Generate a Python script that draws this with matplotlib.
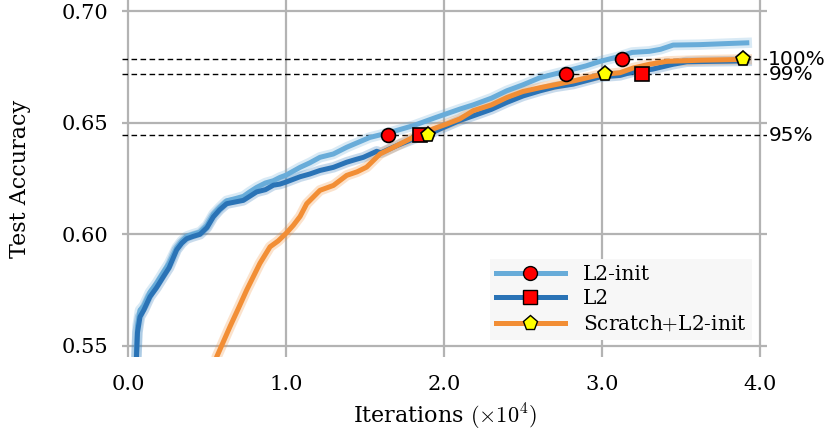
import matplotlib
matplotlib.use("Agg")
import matplotlib.pyplot as plt
from matplotlib.lines import Line2D

# ============================================
# フォント
# ============================================
plt.rcParams["font.family"] = ["DejaVu Serif"]
plt.rcParams["mathtext.fontset"] = "cm"

# ============================================
# データ (x: iterations / 1e4)
# ============================================
l2init_x = [0.045, 0.06, 0.076, 0.10, 0.139, 0.18, 0.224, 0.26, 0.308, 0.34,
            0.371, 0.41, 0.456, 0.50, 0.54, 0.58, 0.624, 0.68, 0.73, 0.77,
            0.814, 0.87, 0.92, 0.962, 1.0, 1.089, 1.15, 1.215, 1.30, 1.384,
            1.45, 1.53, 1.66, 1.806, 1.95, 2.10, 2.185, 2.30, 2.397, 2.50,
            2.608, 2.776, 2.90, 2.987, 3.10, 3.19, 3.30, 3.37, 3.45, 3.62,
            3.80, 3.916]
l2init_y = [0.530, 0.559, 0.566, 0.568, 0.574, 0.578, 0.583, 0.587, 0.594, 0.597,
            0.599, 0.600, 0.601, 0.604, 0.609, 0.612, 0.615, 0.616, 0.617, 0.619,
            0.621, 0.623, 0.624, 0.6255, 0.6265, 0.6300, 0.6320, 0.6345, 0.6360, 0.6390,
            0.6410, 0.6434, 0.6457, 0.6487, 0.6524, 0.6561, 0.6580, 0.6610, 0.6643, 0.6670,
            0.6702, 0.6732, 0.6755, 0.6775, 0.6795, 0.6815, 0.6820, 0.6829, 0.6848, 0.6850,
            0.6855, 0.6858]

l2_x = [0.045, 0.06, 0.076, 0.10, 0.139, 0.18, 0.224, 0.26, 0.308, 0.34,
        0.371, 0.41, 0.456, 0.50, 0.54, 0.58, 0.624, 0.68, 0.73, 0.77,
        0.814, 0.87, 0.92, 0.962, 1.0, 1.089, 1.15, 1.215, 1.30, 1.384,
        1.44, 1.49, 1.574, 1.60, 1.70, 1.806, 1.93, 1.975, 2.10, 2.185,
        2.30, 2.397, 2.50, 2.608, 2.70, 2.818, 2.987, 3.114, 3.196, 3.32,
        3.45, 3.536, 3.70, 3.916]
l2_y = [0.530, 0.556, 0.563, 0.566, 0.572, 0.576, 0.581, 0.585, 0.593, 0.596,
        0.598, 0.599, 0.600, 0.603, 0.6078, 0.611, 0.6137, 0.6145, 0.6152, 0.617,
        0.619, 0.620, 0.622, 0.6225, 0.6234, 0.6258, 0.627, 0.6286, 0.630, 0.6323,
        0.6335, 0.6345, 0.6372, 0.6365, 0.6397, 0.6427, 0.6457, 0.6472, 0.651, 0.6531,
        0.656, 0.6591, 0.662, 0.6643, 0.666, 0.6673, 0.6705, 0.6712, 0.6728, 0.674,
        0.6762, 0.6773, 0.6775, 0.6777]

scratch_x = [0.55, 0.561, 0.646, 0.70, 0.751, 0.80, 0.835, 0.899, 0.95, 1.0,
             1.046, 1.089, 1.131, 1.215, 1.30, 1.384, 1.45, 1.51, 1.595, 1.68,
             1.764, 1.848, 1.93, 2.017, 2.10, 2.185, 2.30, 2.397, 2.50, 2.608,
             2.70, 2.818, 2.987, 3.114, 3.196, 3.30, 3.41, 3.62, 3.916]
scratch_y = [0.540, 0.545, 0.5587, 0.567, 0.575, 0.582, 0.587, 0.5944, 0.597, 0.6004,
             0.604, 0.608, 0.6137, 0.6197, 0.6219, 0.6264, 0.628, 0.6301, 0.636, 0.639,
             0.642, 0.645, 0.6472, 0.6494, 0.6517, 0.6554, 0.658, 0.6613, 0.664, 0.6657,
             0.667, 0.6687, 0.6715, 0.6724, 0.6745, 0.6762, 0.6775, 0.678, 0.6784]

# 到達点マーカー
MAX_ACC = 0.6784
LEVELS = [0.95, 0.99, 1.00]
LEVEL_LABELS = ["95%", "99%", "100%"]
l2init_hit_x = [1.646, 2.77, 3.125]
l2_hit_x = [1.85, 3.25]
scratch_hit_x = [1.90, 3.02, 3.89]

X_TICKS = [0.0, 1.0, 2.0, 3.0, 4.0]
Y_TICKS = [0.55, 0.60, 0.65, 0.70]

C_L2INIT = "#68acd9"
C_L2 = "#2a73b6"
C_SCRATCH = "#f28e35"

# ============================================
# 描画
# ============================================
fig = plt.figure(figsize=(8.31, 4.33), dpi=100)
ax = fig.add_axes([0.1468, 0.1755, 0.7762, 0.8245])

ax.set_xlim(-0.038, 4.044)
ax.set_ylim(0.545, 0.705)

for xs, ys, c in [
    (l2init_x, l2init_y, C_L2INIT),
    (l2_x, l2_y, C_L2),
    (scratch_x, scratch_y, C_SCRATCH),
]:
    ax.plot(xs, ys, color=c, linewidth=7.5, alpha=0.25, zorder=2)
    ax.plot(xs, ys, color=c, linewidth=3.6, zorder=3)

thresholds = [MAX_ACC * lv for lv in LEVELS]
for th, lab in zip(thresholds, LEVEL_LABELS):
    ax.axhline(th, color="black", linestyle=(0, (4, 2.5)), linewidth=1.0, zorder=1)
    ax.text(1.002, th, lab, transform=ax.get_yaxis_transform(),
            family="DejaVu Sans", fontsize=14.5, ha="left", va="center")

ax.plot(l2init_hit_x, thresholds[:len(l2init_hit_x)], "o", color="red",
        markeredgecolor="black", markersize=10, markeredgewidth=1.2, zorder=5)
ax.plot(l2_hit_x, thresholds[:len(l2_hit_x)], "s", color="red",
        markeredgecolor="black", markersize=10, markeredgewidth=1.2, zorder=5)
ax.plot(scratch_hit_x, thresholds[:len(scratch_hit_x)], "p", color="#ffff00",
        markeredgecolor="black", markersize=11, markeredgewidth=1.2, zorder=6)

ax.set_xticks(X_TICKS)
ax.set_xticklabels([f"{v:.1f}" for v in X_TICKS])
ax.set_yticks(Y_TICKS)
ax.set_yticklabels([f"{v:.2f}" for v in Y_TICKS])
ax.tick_params(length=0, labelsize=15)
ax.tick_params(axis="x", pad=13)
ax.tick_params(axis="y", pad=10)
ax.grid(True, color="#b3b3b3", linewidth=1.6)
ax.set_axisbelow(True)
for s in ax.spines.values():
    s.set_visible(False)

ax.set_xlabel(r"Iterations $(\times 10^4)$", fontsize=16, labelpad=6)
ax.set_ylabel("Test Accuracy", fontsize=16, labelpad=22)

handles = [
    Line2D([], [], color=C_L2INIT, linewidth=3.6, marker="o", markerfacecolor="red",
           markeredgecolor="black", markersize=10),
    Line2D([], [], color=C_L2, linewidth=3.6, marker="s", markerfacecolor="red",
           markeredgecolor="black", markersize=10),
    Line2D([], [], color=C_SCRATCH, linewidth=3.6, marker="p", markerfacecolor="#ffff00",
           markeredgecolor="black", markersize=11),
]
leg = ax.legend(handles, ["L2-init", "L2", r"Scratch${+}$L2-init"],
                loc="lower right", bbox_to_anchor=(0.977, 0.048), borderaxespad=0,
                fontsize=14.5, frameon=True, facecolor="#f7f7f7", edgecolor="none",
                framealpha=1, fancybox=False, handlelength=3.4, labelspacing=0.28,
                borderpad=0.3, handletextpad=0.9)

fig.savefig("out.png", dpi=100)
